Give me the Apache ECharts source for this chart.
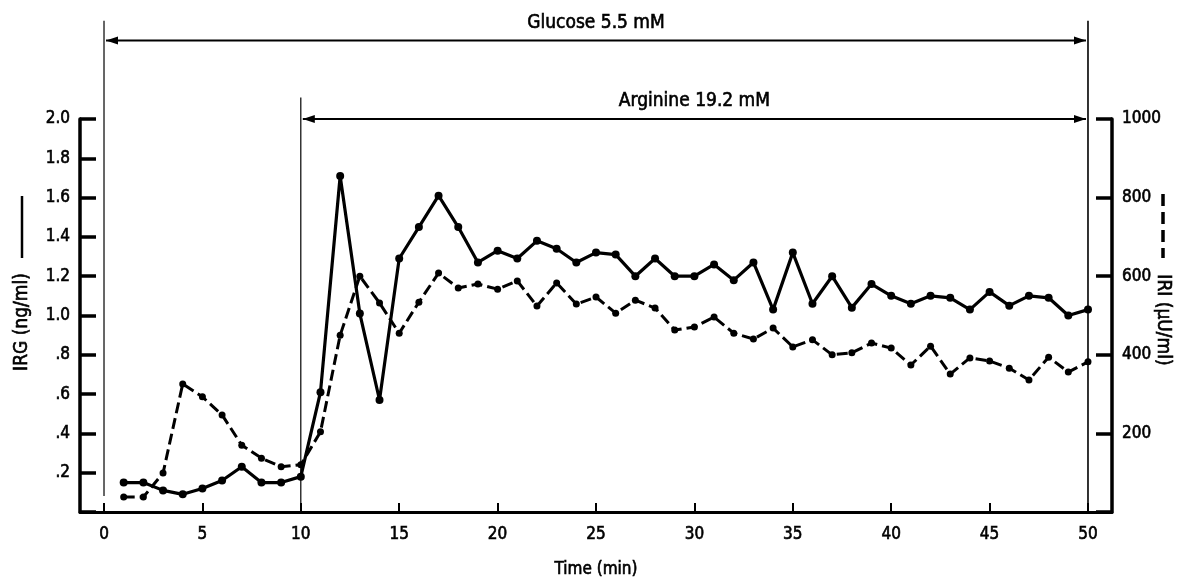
<!DOCTYPE html>
<html>
<head>
<meta charset="utf-8">
<script src="https://cdn.jsdelivr.net/npm/echarts@6/dist/echarts.min.js"></script>
<style>
  html, body { margin: 0; padding: 0; background: #fff; }
  #chart { width: 1177px; height: 581px; }
</style>
</head>
<body>
<div id="chart"></div>
<script>
// Sampling times (min)
const minutes = [1, 2, 3, 4, 5, 6, 7, 8, 9, 10,
  11, 12, 13, 14, 15, 16, 17, 18, 19, 20,
  21, 22, 23, 24, 25, 26, 27, 28, 29, 30,
  31, 32, 33, 34, 35, 36, 37, 38, 39, 40,
  41, 42, 43, 44, 45, 46, 47, 48, 49, 50];

// Immunoreactive glucagon, ng/ml (solid line, left axis)
const irg = [0.15, 0.15, 0.11, 0.09, 0.12, 0.16, 0.23, 0.15, 0.15, 0.18,
  0.61, 1.71, 1.01, 0.57, 1.29, 1.45, 1.61, 1.45, 1.27, 1.33,
  1.29, 1.38, 1.34, 1.27, 1.32, 1.31, 1.20, 1.29, 1.20, 1.20,
  1.26, 1.18, 1.27, 1.03, 1.32, 1.06, 1.20, 1.04, 1.16, 1.10,
  1.06, 1.10, 1.09, 1.03, 1.12, 1.05, 1.10, 1.09, 1.00, 1.03];

// Immunoreactive insulin, µU/ml (dashed line, right axis)
const iri = [38, 38, 99, 326, 293, 247, 170, 137, 115, 120,
  204, 450, 600, 532, 455, 534, 608, 570, 580, 567,
  588, 524, 583, 529, 547, 506, 539, 519, 463, 471,
  496, 455, 440, 468, 420, 438, 400, 405, 430, 417,
  374, 422, 351, 392, 384, 366, 336, 394, 356, 382];

// Axis ticks
const timeTicks = [0, 5, 10, 15, 20, 25, 30, 35, 40, 45, 50];
const irgTicks = ['', '.2', '.4', '.6', '.8', '1.0', '1.2', '1.4', '1.6', '1.8', '2.0'];
const iriTicks = ['', '200', '400', '600', '800', '1000'];

// Infusion periods [start, end, label]
const glucosePeriod = [0, 50, 'Glucose 5.5 mM'];
const argininePeriod = [10, 50, 'Arginine 19.2 mM'];

const FONT = '"DejaVu Sans Condensed", "Liberation Sans Narrow", "DejaVu Sans", sans-serif';
const INK = '#000';

const chart = echarts.init(document.getElementById('chart'), null, { renderer: 'canvas' });

// slightly heavier type via a thin outline in the same ink
const labelStyle = {
  color: INK, fontFamily: FONT, fontSize: 17, fontWeight: 'normal',
  textBorderColor: INK, textBorderWidth: 0.6
};

chart.setOption({
  backgroundColor: '#fff',
  animation: false,
  grid: { left: 80, right: 65, top: 119, bottom: 69, outerBoundsMode: 'none' },
  xAxis: {
    type: 'value',
    min: -1.22,
    max: 51.22,
    splitLine: { show: false },
    axisLine: { onZero: false, lineStyle: { color: INK, width: 3 } },
    axisTick: { show: true, inside: true, length: 9, customValues: timeTicks, lineStyle: { color: INK, width: 2 } },
    axisLabel: Object.assign({ customValues: timeTicks, margin: 14 }, labelStyle),
    name: 'Time (min)',
    nameLocation: 'middle',
    nameGap: 49,
    nameTextStyle: labelStyle
  },
  yAxis: [
    {
      type: 'value',
      min: 0, max: 2.0, interval: 0.2,
      position: 'left',
      splitLine: { show: false },
      axisLine: { show: true, onZero: false, lineStyle: { color: INK, width: 3.5 } },
      axisTick: { show: true, inside: true, length: 16, lineStyle: { color: INK, width: 3.5 } },
      axisLabel: Object.assign({
        margin: 10,
        formatter: function (v) { return irgTicks[Math.round(v / 0.2)]; }
      }, labelStyle)
    },
    {
      type: 'value',
      min: 0, max: 1000, interval: 200,
      position: 'right',
      splitLine: { show: false },
      axisLine: { show: true, onZero: false, lineStyle: { color: INK, width: 3.5 } },
      axisTick: { show: true, inside: true, length: 16, lineStyle: { color: INK, width: 3.5 } },
      axisLabel: Object.assign({
        margin: 10,
        formatter: function (v) { return iriTicks[Math.round(v / 200)]; }
      }, labelStyle)
    }
  ],
  series: [
    {
      name: 'IRI',
      type: 'line',
      yAxisIndex: 1,
      data: minutes.map(function (t, i) { return [t, iri[i]]; }),
      symbol: 'circle',
      symbolSize: 7,
      itemStyle: { color: INK },
      lineStyle: { color: INK, width: 3, type: [11, 5] },
      z: 3
    },
    {
      name: 'IRG',
      type: 'line',
      yAxisIndex: 0,
      data: minutes.map(function (t, i) { return [t, irg[i]]; }),
      symbol: 'circle',
      symbolSize: 8,
      itemStyle: { color: INK },
      lineStyle: { color: INK, width: 3.2 },
      z: 4
    }
  ]
});

// Annotations placed through the axis scales
function px(x, y) { return chart.convertToPixel({ xAxisIndex: 0, yAxisIndex: 0 }, [x, y]); }

const TEXT_FONT = '19px ' + FONT;
const textStyle = { fill: INK, font: TEXT_FONT, align: 'center', verticalAlign: 'middle', stroke: INK, lineWidth: 0.6 };

function arrowHead(tipX, y, dir) {
  const len = 12, half = 4;
  return {
    type: 'polygon',
    shape: { points: [[tipX, y], [tipX - dir * len, y - half], [tipX - dir * len, y + half]] },
    style: { fill: INK }
  };
}

function periodArrow(period, yVal, textYVal) {
  const a = px(period[0], yVal), b = px(period[1], yVal);
  const t = px(0, textYVal);
  return [
    { type: 'line', shape: { x1: a[0] + 2, y1: a[1], x2: b[0] - 2, y2: b[1] }, style: { stroke: INK, lineWidth: 2 } },
    arrowHead(a[0] + 2, a[1], -1),
    arrowHead(b[0] - 2, b[1], 1),
    {
      type: 'text',
      x: (a[0] + b[0]) / 2, y: t[1],
      style: Object.assign({ text: period[2] }, textStyle)
    }
  ];
}

const base = px(0, 0)[1];
const g0 = px(glucosePeriod[0], 2.5), g1 = px(glucosePeriod[1], 2.5), a0 = px(argininePeriod[0], 2.11);

const elements = [
  // Start / end markers of the infusions
  { type: 'line', shape: { x1: g0[0], y1: g0[1], x2: g0[0], y2: base - 16 }, style: { stroke: INK, lineWidth: 1.2 } },
  { type: 'line', shape: { x1: g0[0], y1: base - 9, x2: g0[0], y2: base }, style: { stroke: INK, lineWidth: 1.5 } },
  { type: 'line', shape: { x1: a0[0], y1: a0[1], x2: a0[0], y2: base }, style: { stroke: INK, lineWidth: 1.2 } },
  { type: 'line', shape: { x1: g1[0], y1: g1[1], x2: g1[0], y2: base }, style: { stroke: INK, lineWidth: 1.6 } }
].concat(periodArrow(glucosePeriod, 2.4, 2.49), periodArrow(argininePeriod, 2.0, 2.09));

// Rotated axis titles with their line keys
elements.push(
  {
    type: 'text', x: 22, y: 322, rotation: Math.PI / 2,
    style: Object.assign({ text: 'IRG (ng/ml)' }, textStyle)
  },
  { type: 'line', shape: { x1: 22, y1: 196, x2: 22, y2: 258 }, style: { stroke: INK, lineWidth: 2.5 } },
  {
    type: 'text', x: 1163, y: 320, rotation: -Math.PI / 2,
    style: Object.assign({ text: 'IRI (\u00b5U/ml)' }, textStyle)
  },
  { type: 'line', shape: { x1: 1163, y1: 194, x2: 1163, y2: 258 }, style: { stroke: INK, lineWidth: 3.5, lineDash: [12, 6] } }
);

chart.setOption({ graphic: { elements: elements } });
</script>
</body>
</html>
